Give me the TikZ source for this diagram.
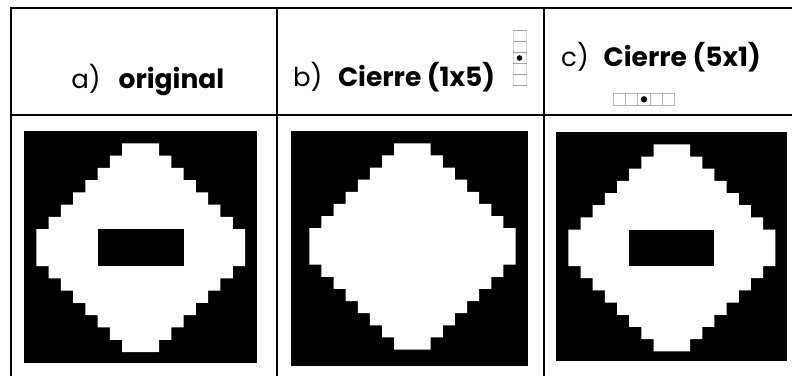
\documentclass[tikz,border=0pt]{standalone}
\usepackage{fontspec}
\setmainfont{Poppins}
\begin{document}
\begin{tikzpicture}[x=1pt,y=-1pt,
  tableline/.style={line width=2pt,black},
  header/.style={anchor=base west,inner sep=0pt,font=\fontsize{26.5}{30}\selectfont},
  label/.style={anchor=base east,inner sep=0pt,font=\fontsize{26}{30}\selectfont},
  secell/.style={draw=gray!60,line width=0.7pt},
  sedot/.style={fill={rgb,255:red,10;green,15;blue,40}}]
\useasboundingbox (0,0) rectangle (792,376);
\fill[white] (0,0) rectangle (792,376);
% table lines
\draw[tableline] (10,7.5) -- (792,7.5);
\draw[tableline] (10,114.5) -- (792,114.5);
\draw[tableline] (11,7.5) -- (11,376);
\draw[tableline] (277.3,7.5) -- (277.3,376);
\draw[tableline] (543.5,7.5) -- (543.5,376);
% staircase diamond in grid units
\newcommand\diamondshape{(8,1) -- (11,1) -- (11,2) -- (12,2) -- (12,3) -- (13,3) -- (13,4) -- (14,4) -- (14,5) -- (15,5) -- (15,6) -- (16,6) -- (16,7) -- (17,7) -- (17,8) -- (18,8) -- (18,11) -- (17,11) -- (17,12) -- (16,12) -- (16,13) -- (15,13) -- (15,14) -- (14,14) -- (14,15) -- (13,15) -- (13,16) -- (12,16) -- (12,17) -- (11,17) -- (11,18) -- (8,18) -- (8,17) -- (7,17) -- (7,16) -- (6,16) -- (6,15) -- (5,15) -- (5,14) -- (4,14) -- (4,13) -- (3,13) -- (3,12) -- (2,12) -- (2,11) -- (1,11) -- (1,8) -- (2,8) -- (2,7) -- (3,7) -- (3,6) -- (4,6) -- (4,5) -- (5,5) -- (5,4) -- (6,4) -- (6,3) -- (7,3) -- (7,2) -- (8,2) -- cycle}
% image a
\fill[black] (24,131) rectangle (257,363.3);
\begin{scope}[shift={(24pt,-131pt)},x=12.28pt,y=-12.28pt]
  \fill[white] \diamondshape;
  \fill[black] (6,8) rectangle (13,11);
\end{scope}
% image b
\fill[black] (291,130.7) rectangle (527.7,366);
\begin{scope}[shift={(297.2pt,-131.2pt)},x=12.13pt,y=-12.13pt]
  \fill[white] \diamondshape;
\end{scope}
% image c
\fill[black] (556,132.2) rectangle (787,361);
\begin{scope}[shift={(556.2pt,-132.2pt)},x=12.17pt,y=-12.17pt]
  \fill[white] \diamondshape;
  \fill[black] (6,8) rectangle (13,11);
\end{scope}
% headers
\node[label] (la) at (101,88.3) {a)};
\node[header] (ta) at (118.5,88.3) {\textbf{original}};
\node[label] (lb) at (322.7,86.7) {b)};
\node[header] (tb) at (337.8,86.7) {\textbf{Cierre (1x5)}};
\node[label] (lc) at (589,66.7) {c)};
\node[header] (tc) at (603.5,66.7) {\textbf{Cierre (5x1)}};
% structuring element 1x5 (vertical)
\draw[draw=gray!35,line width=0.7pt] (513.3,30.7) -- (513.3,85.7) (526.7,30.7) -- (526.7,85.7);
\foreach \yy in {30.7,41.7,52.3,63.3,74.3,85.7}
  \draw[secell,draw=gray!75] (513.3,\yy) -- (526.7,\yy);
\fill[sedot] (519.5,58) circle (2.8);
% structuring element 5x1 (horizontal)
\draw[secell] (613.3,93.3) rectangle (674,105);
\foreach \xx in {625.7,637.7,650,662.3}
  \draw[secell] (\xx,93.3) -- (\xx,105);
\fill[sedot] (644,99.3) circle (3.2);
\end{tikzpicture}
\end{document}
